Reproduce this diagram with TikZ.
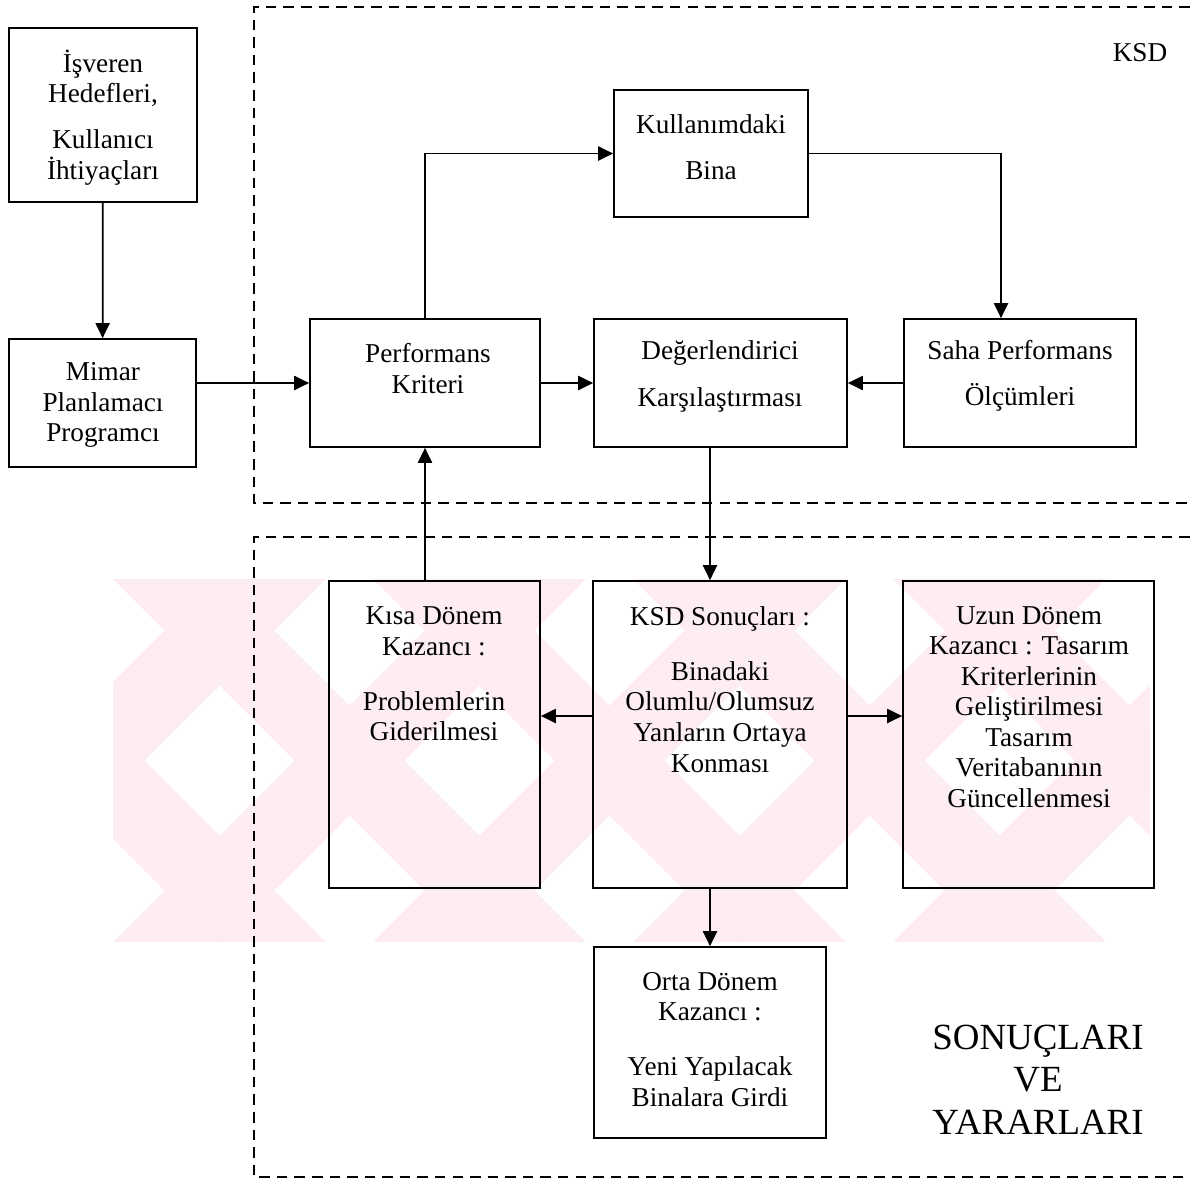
\documentclass[tikz,border=0pt]{standalone}
\usepackage{fontspec}
\setmainfont{Liberation Serif}
\usetikzlibrary{arrows.meta}

\definecolor{wmark}{RGB}{253,237,241}

\begin{document}
\begin{tikzpicture}[x=0.02cm, y=-0.02cm,
    box/.style={draw, line width=1pt, inner sep=0pt},
    txt/.style={align=center, inner sep=0pt, font=\fontsize{15.5pt}{17.4pt}\selectfont},
    arr/.style={-{Triangle[length=8.5pt,width=8pt]}, line width=1pt},
    frame/.style={line width=0.8pt, dash pattern=on 6pt off 4pt}]
    \useasboundingbox (0,0) rectangle (1190,1180);

    % Watermark band behind the lower boxes
    \begin{scope}
      \clip (113,579) rectangle (1150,942);
      \foreach \c in {-147,113,373,633,893,1153} {
        \fill[wmark] (\c,579) -- (\c+110,579) -- (\c+473,942) -- (\c+363,942) -- cycle; % down-right bar
        \fill[wmark] (\c,942) -- (\c+110,942) -- (\c+473,579) -- (\c+363,579) -- cycle; % up-right bar
      }
    \end{scope}

    % Dashed frames
    \draw[frame] (1190,7) -- (254,7) -- (254,503) -- (1190,503);
    \draw[frame] (1190,537) -- (254,537) -- (254,1177) -- (1190,1177);
    \node[txt] (ksd) at (1140,53) {KSD};
    \node[align=center, inner sep=0pt, font=\fontsize{21pt}{24.1pt}\selectfont] (sonuclar) at (1038,1079.5) {SONUÇLARI\\VE\\YARARLARI};

    % Boxes
    \node[box, minimum width=3.76cm, minimum height=3.48cm] (isv) at (103,115) {};
    \node[box, minimum width=3.74cm, minimum height=2.56cm] (mimar) at (102.5,403) {};
    \node[box, minimum width=4.6cm, minimum height=2.56cm] (perf) at (425,383) {};
    \node[box, minimum width=5.06cm, minimum height=2.56cm] (deg) at (720.5,383) {};
    \node[box, minimum width=4.64cm, minimum height=2.56cm] (saha) at (1020,383) {};
    \node[box, minimum width=3.88cm, minimum height=2.54cm] (bina) at (711,153.5) {};
    \node[box, minimum width=4.22cm, minimum height=6.14cm] (kisa) at (434.5,734.5) {};
    \node[box, minimum width=5.08cm, minimum height=6.14cm] (sonuc) at (720,734.5) {};
    \node[box, minimum width=5.02cm, minimum height=6.14cm] (uzun) at (1028.5,734.5) {};
    \node[box, minimum width=4.64cm, minimum height=3.82cm] (orta) at (710,1042.5) {};

    % Box texts
    \node[txt] (isvt) at (103,117.5) {İşveren\\Hedefleri,\\[8.6pt]Kullanıcı\\İhtiyaçları};
    \node[txt] (mimart) at (103,405) {Mimar\\Planlamacı\\Programcı};
    \node[txt] (perft) at (428,368.5) {Performans\\Kriteri};
    \node[txt] (degt) at (720,376.5) {Değerlendirici\\[9.3pt]Karşılaştırması};
    \node[txt] (sahat) at (1020,376) {Saha Performans\\[8.7pt]Ölçümleri};
    \node[txt] (binat) at (711,147) {Kullanımdaki\\[8.7pt]Bina};
    \node[txt] (kisat) at (434,674) {Kısa Dönem\\Kazancı :\\[13.8pt]Problemlerin\\Giderilmesi};
    \node[txt] (sonuct) at (720,689.5) {KSD Sonuçları :\\[13.8pt]Binadaki\\Olumlu/Olumsuz\\Yanların Ortaya\\Konması};
    \node[txt] (uzunt) at (1029,707) {Uzun Dönem\\Kazancı : Tasarım\\Kriterlerinin\\Geliştirilmesi\\Tasarım\\Veritabanının\\Güncellenmesi};
    \node[txt] (ortat) at (710,1039.5) {Orta Dönem\\Kazancı :\\[13.8pt]Yeni Yapılacak\\Binalara Girdi};

    % Connectors
    \draw[arr] (isv) -- (mimar);
    \draw[arr] (mimar.east |- perf.west) -- (perf.west);
    \draw[arr] (perf.north) |- (bina.west);
    \draw[arr] (bina.east) -| ([xshift=-0.38cm]saha.north);
    \draw[arr] (perf) -- (deg);
    \draw[arr] (saha) -- (deg);
    \draw[arr] (deg.south -| orta.north) -- (sonuc.north -| orta.north);
    \draw[arr] (kisa.north -| perf.north) -- (perf.south);
    \draw[arr] ([yshift=0.37cm]sonuc.west) -- ([yshift=0.37cm]kisa.east);
    \draw[arr] ([yshift=0.37cm]sonuc.east) -- ([yshift=0.37cm]uzun.west);
    \draw[arr] (sonuc.south -| orta.north) -- (orta.north);
\end{tikzpicture}
\end{document}
